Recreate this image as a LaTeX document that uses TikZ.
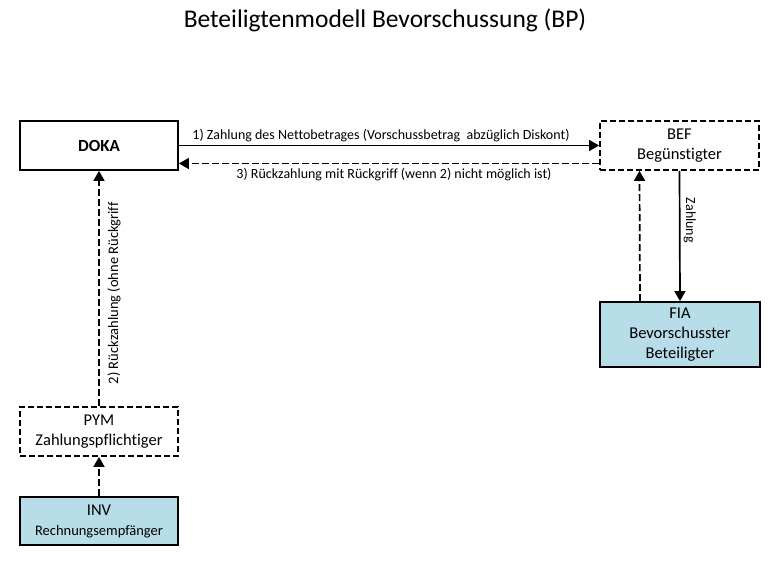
\documentclass[tikz,border=0pt]{standalone}
\usepackage{fontspec}
\setmainfont{Carlito}[Ligatures=NoCommon]
\usepackage{xcolor}
\usetikzlibrary{arrows.meta, positioning}
\definecolor{partyblue}{RGB}{183,221,232}
\tikzset{
  arrow/.style={-{Triangle[length=10pt,width=11pt]}, line width=1.7pt},
  dasharrow/.style={arrow, dash pattern=on 7pt off 3pt},
  annot/.style={font=\fontsize{14}{16}\selectfont, inner sep=1pt},
}

\begin{document}
\begin{tikzpicture}[x=1pt, y=1pt,
  party/.style={rectangle, draw=black, line width=1.8pt,
                minimum width=158pt, minimum height=49pt,
                align=center, font=\fontsize{16.5}{20}\selectfont, inner sep=2pt},
  optparty/.style={party, dash pattern=on 6pt off 3pt},
  mainparty/.style={party, fill=partyblue},
]
  \useasboundingbox (0,0) rectangle (771,561);

  % Title
  \node[font=\fontsize{25.5}{30}\selectfont] (title) at (385,541) {Beteiligtenmodell Bevorschussung (BP)};

  % Top row
  \node[party, font=\fontsize{17}{20}\selectfont\bfseries] (doka) at (99,415.5) {DOKA};
  \node[optparty, minimum width=159pt] (bef) at (679.5,415.5) {BEF\\Begünstigter};

  % Right column
  \node[mainparty, minimum width=160pt, minimum height=65pt] (fia) at (680,226.5) {FIA\\Bevorschusster\\Beteiligter};

  % Left column
  \node[optparty] (pym) at (99,129.5) {PYM\\Zahlungspflichtiger};
  \node[mainparty, minimum height=48pt] (inv) at (99,40)
    {INV\\{\fontsize{14.5}{18}\selectfont Rechnungsempfänger}};

  % Arrows
  \draw[arrow] (doka.east) -- (bef.west)
    node[annot, midway, above=2pt, xshift=-8pt] {1) Zahlung des Nettobetrages (Vorschussbetrag\ \ abzüglich Diskont)};
  \draw[dasharrow] ([yshift=-18pt]bef.west) -- ([yshift=-18pt]doka.east)
    node[annot, midway, below=3pt, xshift=5pt] {3) Rückzahlung mit Rückgriff (wenn 2) nicht möglich ist)};
  \draw[dasharrow] (pym.north) -- (doka.south)
    node[annot, font=\fontsize{14.5}{16}\selectfont, pos=0.48, xshift=15pt, rotate=90] {2) Rückzahlung (ohne Rückgriff};
  \draw[arrow] (bef.south) -- (fia.north)
    node[annot, pos=0.38, xshift=10pt, rotate=-90] {Zahlung};
  \draw[dasharrow] ([xshift=-40pt]fia.north) -- ([xshift=-40pt]bef.south);
  \draw[dasharrow] (inv.north) -- (pym.south);

\end{tikzpicture}
\end{document}
